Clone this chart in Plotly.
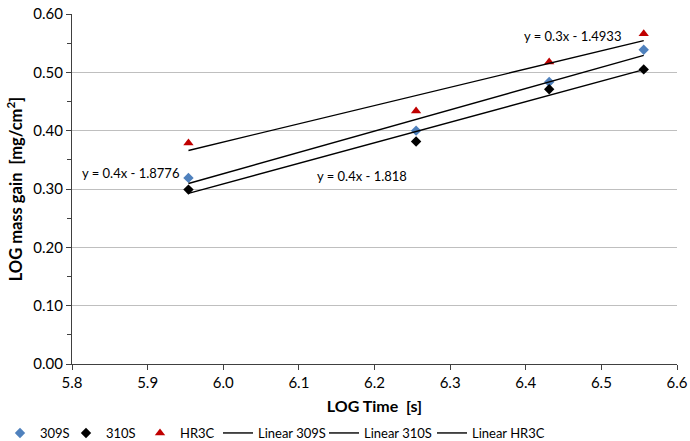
import numpy as np
import plotly.graph_objects as go

# Data
log_time = [5.954, 6.255, 6.431, 6.556]
s309 = [0.319, 0.400, 0.4835, 0.5386]
s310 = [0.299, 0.3815, 0.471, 0.505]
hr3c = [0.379, 0.4335, 0.5176, 0.566]
series_names = ["309S", "310S", "HR3C"]
eq_texts = ["y = 0.4x - 1.8776", "y = 0.4x - 1.818", "y = 0.3x - 1.4933"]
x_ticks = [5.8, 5.9, 6.0, 6.1, 6.2, 6.3, 6.4, 6.5, 6.6]
y_ticks = [0.0, 0.1, 0.2, 0.3, 0.4, 0.5, 0.6]

FONT = "Lato"
W, H = 690, 441
L, R, T, B = 72, 13, 14, 77

fig = go.Figure()

styles = [
    dict(symbol="diamond", color="#4f81bd", size=8),
    dict(symbol="diamond", color="#000000", size=8),
    dict(symbol="triangle-up", color="#c00000", size=9),
]
legend_x_px = [0, 66, 140, 218, 324, 432]
legend_ids = ["legend", "legend2", "legend3", "legend4", "legend5", "legend6"]

for i, (name, ys) in enumerate(zip(series_names, [s309, s310, hr3c])):
    fig.add_trace(go.Scatter(
        x=log_time, y=ys, mode="markers", name=name,
        marker=dict(symbol=styles[i]["symbol"], color=styles[i]["color"], size=styles[i]["size"],
                    line=dict(width=0)),
        legend=legend_ids[i], showlegend=True,
    ))

for i, (name, ys) in enumerate(zip(series_names, [s309, s310, hr3c])):
    m, c = np.polyfit(log_time, ys, 1)
    xs = [log_time[0], log_time[-1]]
    fig.add_trace(go.Scatter(
        x=xs, y=[m * xs[0] + c, m * xs[1] + c], mode="lines", name="Linear " + name,
        line=dict(color="#000000", width=1.4),
        legend=legend_ids[3 + i], showlegend=True,
    ))

# equation labels
eq_pos = [(5.877, 0.3276), (6.184, 0.3225), (6.462, 0.5626)]
for (ex, ey), t in zip(eq_pos, eq_texts):
    fig.add_annotation(x=ex, y=ey, text=t, showarrow=False,
                       font=dict(family=FONT, size=13, color="#000000"))

layout_legends = {}
for lid, px in zip(legend_ids, legend_x_px):
    layout_legends[lid] = dict(
        x=px / W, xref="container", xanchor="left",
        y=1 - 433 / H, yref="container", yanchor="middle",
        orientation="h", bgcolor="rgba(0,0,0,0)",
        font=dict(family=FONT, size=13, color="#000000"),
        itemwidth=30,
    )

fig.update_layout(
    width=W, height=H,
    margin=dict(l=L, r=R, t=T, b=B, autoexpand=False),
    paper_bgcolor="white", plot_bgcolor="white",
    font=dict(family=FONT, size=13, color="#000000"),
    xaxis=dict(
        range=[5.8, 6.6], tickvals=x_ticks, ticktext=[f"{v:.1f}" for v in x_ticks],
        showgrid=False, zeroline=False, showline=True, linecolor="#404040", linewidth=1.3,
        ticks="outside", ticklen=5, tickcolor="#404040", automargin=False,
        tickfont=dict(family=FONT, size=15, color="#000000"),
        title=dict(text="<b>LOG Time  [s]</b>", font=dict(family=FONT, size=16), standoff=10),
    ),
    yaxis=dict(
        range=[0, 0.6], tickvals=y_ticks, ticktext=[f"{v:.2f}" for v in y_ticks],
        showgrid=True, gridcolor="#bfbfbf", gridwidth=1,
        zeroline=False, showline=True, linecolor="#404040", linewidth=1.3,
        ticks="outside", ticklen=5, tickcolor="#404040", automargin=False,
        minor=dict(tickvals=[0.05, 0.15, 0.25, 0.35, 0.45, 0.55], ticks="outside", ticklen=4,
                   tickcolor="#404040", showgrid=False),
        tickfont=dict(family=FONT, size=15, color="#000000"),
        title=dict(text="<b>LOG mass gain  [mg/cm<sup>2</sup>]</b>", font=dict(family=FONT, size=16.5), standoff=6),
    ),
    **layout_legends,
)

fig.write_html("out.html")
